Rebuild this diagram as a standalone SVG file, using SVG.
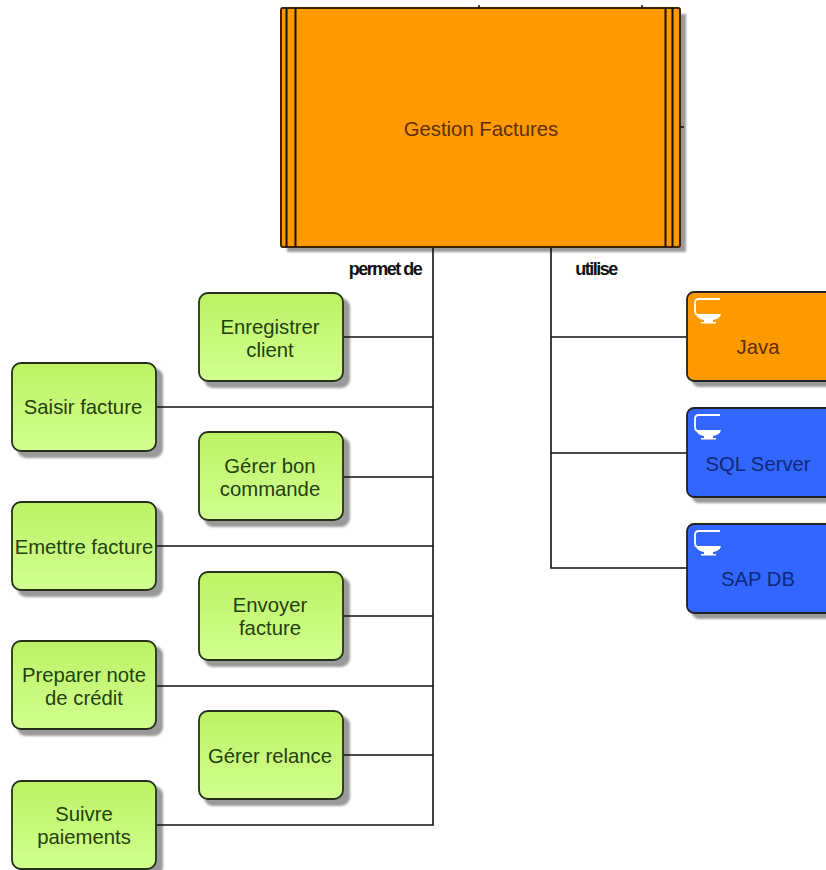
<svg xmlns="http://www.w3.org/2000/svg" width="826" height="870" viewBox="0 0 826 870">
<defs>
<linearGradient id="g" x1="0" y1="0" x2="0" y2="1"><stop offset="0" stop-color="#bcf264"/><stop offset="1" stop-color="#d2ff90"/></linearGradient>
<filter id="blur" x="-10%" y="-10%" width="120%" height="120%"><feGaussianBlur stdDeviation="0.800"/></filter>
<g id="pc"><path d="M26 0H5Q1 0 1 4V12Q1 17 8 17H26" fill="none" stroke="#fff" stroke-width="1.800"/><path d="M2 15H27Q26 20 19 21V23H22V24.500H7V23H10V21Q3 20 2 15Z" fill="#fff"/></g>
</defs>
<style>
text{font-family:"Liberation Sans",Arial,sans-serif;font-size:20.300px;text-anchor:middle}
.shadow{fill:#9a9a9a;filter:url(#blur)}
.a rect.b{fill:url(#g);stroke:#25301a;stroke-width:1.800}
.a text{fill:#24400e}
.s rect.b{stroke:#222;stroke-width:1.800}
.or{fill:#ff9900}
.bl{fill:#3366ff}
.c{fill:none;stroke:#111;stroke-width:1.600}
.lab{font-weight:bold;font-size:18px;fill:#111;letter-spacing:-1.500px}
.v{stroke:#1a1000;stroke-width:2;fill:none}
</style>
<g id="main">
<rect class="shadow" x="287" y="14" width="399" height="238"/>
<rect x="281" y="8" width="399" height="239" rx="2" class="or" stroke="#3c2400" stroke-width="2"/>
<path class="v" d="M286.500 8V247M295.500 8V247M665.500 8V247M672.500 8V247"/>
<text x="481" y="135.500" fill="#5c2f00">Gestion Factures</text>
</g>
<text class="lab" x="385" y="274.500">permet de</text>
<text class="lab" x="596" y="274.500">utilise</text>
<g id="n1" class="a"><rect class="shadow" x="204" y="298" width="146" height="90" rx="9"/><rect class="b" x="199" y="293" width="144" height="88" rx="9"/><text x="270" y="333.500">Enregistrer</text><text x="270" y="356.500">client</text></g>
<g id="n2" class="a"><rect class="shadow" x="17" y="368" width="146" height="90" rx="9"/><rect class="b" x="12" y="363" width="144" height="88" rx="9"/><text x="83" y="413.500">Saisir facture</text></g>
<g id="n3" class="a"><rect class="shadow" x="204" y="437" width="146" height="90" rx="9"/><rect class="b" x="199" y="432" width="144" height="88" rx="9"/><text x="270" y="472.500">Gérer bon</text><text x="270" y="495.500">commande</text></g>
<g id="n4" class="a"><rect class="shadow" x="17" y="507" width="146" height="90" rx="9"/><rect class="b" x="12" y="502" width="144" height="88" rx="9"/><text x="84" y="553.500">Emettre facture</text></g>
<g id="n5" class="a"><rect class="shadow" x="204" y="577" width="146" height="90" rx="9"/><rect class="b" x="199" y="572" width="144" height="88" rx="9"/><text x="270" y="611.500">Envoyer</text><text x="270" y="634.500">facture</text></g>
<g id="n6" class="a"><rect class="shadow" x="17" y="646" width="146" height="90" rx="9"/><rect class="b" x="12" y="641" width="144" height="88" rx="9"/><text x="84" y="681.500">Preparer note</text><text x="84" y="704.500">de crédit</text></g>
<g id="n7" class="a"><rect class="shadow" x="204" y="716" width="146" height="90" rx="9"/><rect class="b" x="199" y="711" width="144" height="88" rx="9"/><text x="270" y="762.500">Gérer relance</text></g>
<g id="n8" class="a"><rect class="shadow" x="17" y="786" width="146" height="90" rx="9"/><rect class="b" x="12" y="781" width="144" height="88" rx="9"/><text x="84" y="820.500">Suivre</text><text x="84" y="843.500">paiements</text></g>
<g id="s1" class="s"><rect class="shadow" x="692" y="297" width="150" height="90" rx="7"/><rect class="b or" x="687" y="292" width="150" height="89" rx="7"/><use href="#pc" x="694" y="299"/><text x="758" y="353.500" fill="#5c2f00">Java</text></g>
<g id="s2" class="s"><rect class="shadow" x="692" y="413" width="150" height="90" rx="7"/><rect class="b bl" x="687" y="408" width="150" height="89" rx="7"/><use href="#pc" x="694" y="415"/><text x="758" y="470.500" fill="#0c2a78">SQL Server</text></g>
<g id="s3" class="s"><rect class="shadow" x="692" y="529" width="150" height="90" rx="7"/><rect class="b bl" x="687" y="524" width="150" height="89" rx="7"/><use href="#pc" x="694" y="531"/><text x="758" y="585.500" fill="#0c2a78">SAP DB</text></g>
<g id="connectors" class="c">
<path d="M433 248V825H157"/><path d="M433 337H344M433 407H157M433 477H344M433 546H157M433 616H344M433 686H157M433 755H344"/>
<path d="M551 248V568H686M551 337H686M551 453H686"/>
<path d="M680 127H684M479 5V8M642 5V8" stroke-width="1.500"/>
</g>
</svg>
